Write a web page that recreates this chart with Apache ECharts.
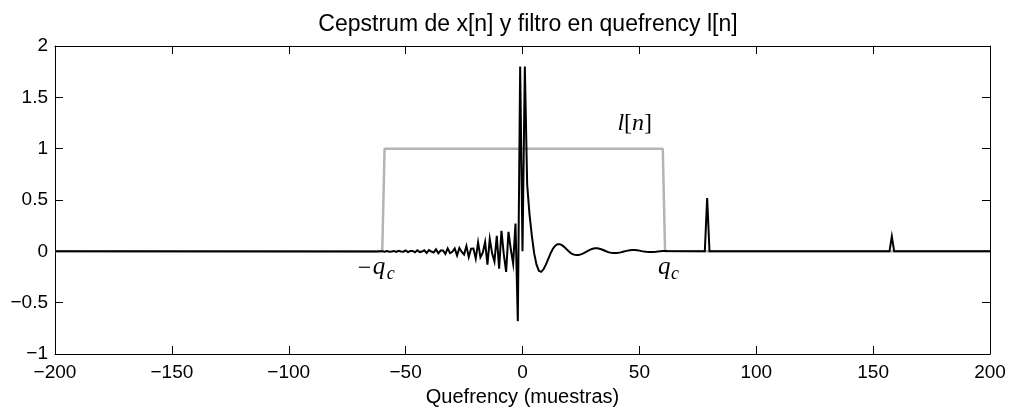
<!DOCTYPE html>
<html>
<head>
<meta charset="utf-8">
<script src="https://cdn.jsdelivr.net/npm/echarts@6/dist/echarts.min.js"></script>
<style>
  html, body { margin: 0; padding: 0; background: #fff; }
  #chart { width: 1012px; height: 412px; }
</style>
</head>
<body>
<div id="chart"></div>
<script>
// Cepstrum samples around the origin, starting at n = cepstrumStart (one per integer quefrency)
const cepstrumStart = -62;
const cepstrumCenter = [
  -0.0025, 0.001, 0.001, -0.003, 0.004, -0.003, -0.001, 0.004, -0.006, 0.005,   // n = -62 .. -53
  -0.001, -0.004, 0.008, -0.008, 0.003, 0.004, -0.009, 0.011, -0.007, -0.002,   // n = -52 .. -43
  0.010, -0.015, 0.012, -0.002, -0.011, 0.019, -0.019, 0.008, 0.009, -0.025,    // n = -42 .. -33
  0.029, -0.018, -0.004, 0.028, -0.040, 0.033, -0.006, -0.030, 0.053, -0.055,   // n = -32 .. -23
  0.025, 0.027, -0.071, 0.087, -0.058, -0.013, 0.090, -0.130, 0.120, -0.020,    // n = -22 .. -13
  -0.100, 0.150, -0.170, 0.200, -0.030, -0.200, 0.190, 0.020, -0.120, 0.270,    // n = -12 .. -3
  -0.680, 1.800, 0.000, 1.800, 0.650, 0.360, 0.150, -0.020, -0.130, -0.190,     // n = -2 .. 7
  -0.200, -0.175, -0.130, -0.075, -0.020, 0.025, 0.055, 0.070, 0.070, 0.058,    // n = 8 .. 17
  0.040, 0.017, -0.005, -0.022, -0.032, -0.036, -0.035, -0.030, -0.020, -0.008, // n = 18 .. 27
  0.005, 0.017, 0.025, 0.029, 0.029, 0.025, 0.018, 0.008, -0.002, -0.010,      // n = 28 .. 37
  -0.014, -0.016, -0.016, -0.014, -0.010, -0.004, 0.002, 0.007, 0.011, 0.013,  // n = 38 .. 47
  0.013, 0.011, 0.007, 0.002, -0.002, -0.005, -0.007, -0.007, -0.006, -0.004,  // n = 48 .. 57
  -0.001, 0.002, 0.003, 0.004, 0.003                                           // n = 58 .. 62
];
// Pitch peaks of the cepstrum (quefrency, value)
const pitchQuefrency = [78, 79, 80, 157, 158, 159];
const pitchValues    = [0, 0.52, 0, 0, 0.145, 0];
// Lifter l[n] corner points
const lifterQuefrency = [-200, -60, -59, 60, 61, 200];
const lifterValues    = [0, 0, 1, 1, 0, 0];
// Axis ranges and ticks
const xTicks = [-200, -150, -100, -50, 0, 50, 100, 150, 200];
const yTicks = [-1, -0.5, 0, 0.5, 1, 1.5, 2];
const xLimits = [-200, 200];
const yLimits = [-1, 2];

const cepstrumData = [[xLimits[0], 0]];
cepstrumCenter.forEach((v, i) => cepstrumData.push([cepstrumStart + i, v]));
pitchQuefrency.forEach((q, i) => cepstrumData.push([q, pitchValues[i]]));
cepstrumData.push([xLimits[1], 0]);

const lifterData = lifterQuefrency.map((q, i) => [q, lifterValues[i]]);

const SANS = 'Liberation Sans, Arial, Helvetica, sans-serif';
const SERIF = 'Liberation Serif, Times New Roman, serif';
const fmt = v => String(v).replace('-', '\u2212');

const baseAxis = {
  type: 'value',
  axisLine: { show: true, onZero: false, lineStyle: { color: '#000', width: 1 } },
  axisTick: { show: true, inside: true, length: 8, lineStyle: { color: '#000', width: 1 } },
  splitLine: { show: false },
  axisLabel: { color: '#000', fontSize: 19, fontFamily: SANS, formatter: fmt }
};

const chart = echarts.init(document.getElementById('chart'), null, { renderer: 'canvas' });
chart.setOption({
  animation: false,
  backgroundColor: '#fff',
  title: {
    text: 'Cepstrum de x[n] y filtro en quefrency l[n]',
    left: 523, top: 8, textAlign: 'center',
    textStyle: { fontSize: 23, fontWeight: 'normal', color: '#000', fontFamily: SANS }
  },
  grid: { left: 55, right: 22, top: 46, bottom: 57, containLabel: false },
  xAxis: [
    Object.assign({}, baseAxis, {
      position: 'bottom', min: xLimits[0], max: xLimits[1], interval: xTicks[1] - xTicks[0],
      axisLabel: Object.assign({}, baseAxis.axisLabel, { margin: 9 }),
      name: 'Quefrency (muestras)', nameLocation: 'middle', nameGap: 33,
      nameTextStyle: { fontSize: 20, color: '#000', fontFamily: SANS }
    }),
    Object.assign({}, baseAxis, {
      position: 'top', min: xLimits[0], max: xLimits[1], interval: xTicks[1] - xTicks[0],
      axisLabel: { show: false }
    })
  ],
  yAxis: [
    Object.assign({}, baseAxis, {
      position: 'left', min: yLimits[0], max: yLimits[1], interval: yTicks[1] - yTicks[0],
      axisLabel: Object.assign({}, baseAxis.axisLabel, { margin: 7 })
    }),
    Object.assign({}, baseAxis, {
      position: 'right', min: yLimits[0], max: yLimits[1], interval: yTicks[1] - yTicks[0],
      axisLabel: { show: false }
    })
  ],
  series: [
    {
      name: 'l[n]', type: 'line', data: lifterData, xAxisIndex: 0, yAxisIndex: 0,
      showSymbol: false, symbol: 'none', z: 2,
      lineStyle: { color: '#b4b4b4', width: 2.5 }
    },
    {
      name: 'cepstrum', type: 'line', data: cepstrumData, xAxisIndex: 0, yAxisIndex: 0,
      showSymbol: false, symbol: 'none', z: 3,
      lineStyle: { color: '#000', width: 2, join: 'miter' }
    }
  ]
});

// Math annotations placed in data coordinates
const toPx = (x, y) => chart.convertToPixel({ xAxisIndex: 0, yAxisIndex: 0 }, [x, y]);
const txt = (x, y, text, size, italic, align) => ({
  type: 'text', x: x, y: y, z: 10,
  style: {
    text: text, fontSize: size, fontFamily: SERIF, fontStyle: italic ? 'italic' : 'normal',
    fill: '#000', align: align || 'left', verticalAlign: 'middle'
  }
});
const lPos = toPx(40.6, 1.24);
const negQ = toPx(-70.5, -0.17);
const posQ = toPx(58, -0.17);
chart.setOption({
  graphic: [
    {
      type: 'text', x: lPos[0], y: lPos[1], z: 10,
      style: {
        text: '{i|l}{r|[}{i|n}{r|]}', verticalAlign: 'middle', align: 'left',
        rich: {
          i: { fontSize: 24, fontFamily: SERIF, fontStyle: 'italic', fill: '#000' },
          r: { fontSize: 24, fontFamily: SERIF, fill: '#000' }
        }
      }
    },
    txt(negQ[0], negQ[1], '\u2212', 24, false),
    txt(negQ[0] + 15, negQ[1] - 1, 'q', 25, true),
    txt(negQ[0] + 29, negQ[1] + 5, 'c', 18, true),
    txt(posQ[0], posQ[1] - 1, 'q', 25, true),
    txt(posQ[0] + 13, posQ[1] + 5, 'c', 18, true)
  ]
});
</script>
</body>
</html>
